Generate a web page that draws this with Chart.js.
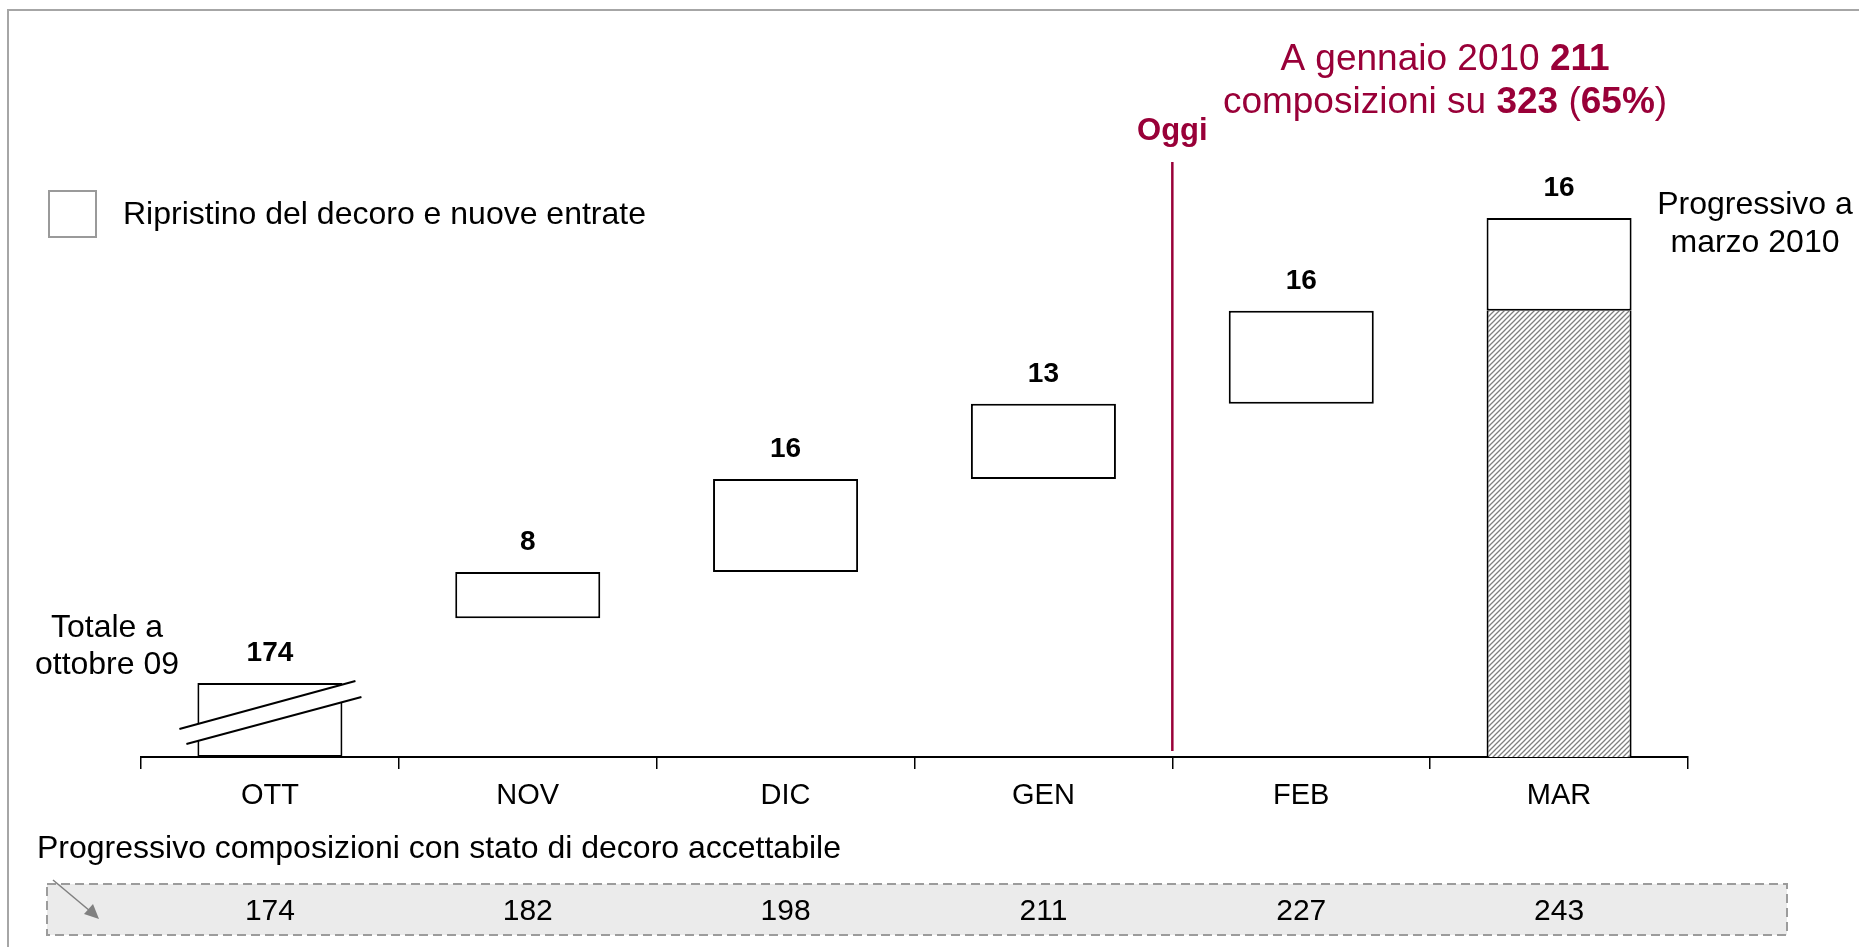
<!DOCTYPE html>
<html lang="it">
<head>
<meta charset="utf-8">
<title>Progressivo composizioni</title>
<script src="https://cdn.jsdelivr.net/npm/chart.js@4.4.1/dist/chart.umd.min.js"></script>
<style>
  html, body { margin: 0; padding: 0; background: #fff; }
  canvas { display: block; }
</style>
</head>
<body>
<canvas id="decoroChart" width="1859" height="947"></canvas>
<script>
// dati
const categories = ['OTT', 'NOV', 'DIC', 'GEN', 'FEB', 'MAR'];
const increments = [174, 8, 16, 13, 16, 16];
const progressive = [174, 182, 198, 211, 227, 243];
const totalCompositions = 323;
const legendLabel = 'Ripristino del decoro e nuove entrate';

const CRIMSON = '#990038';
const FONT = "'Liberation Sans', Arial, sans-serif";

// barre fluttuanti: da progressivo precedente a progressivo corrente
const boxData = categories.map((c, i) => i === 0 ? null : [progressive[i - 1], progressive[i]]);
// barra iniziale (spezzata) e barra finale tratteggiata
const startData = categories.map((c, i) => i === 0 ? progressive[0] : null);
const endData = categories.map((c, i) => i === categories.length - 1 ? progressive[i - 1] : null);

// pattern a righe diagonali per la barra di marzo
function makeHatch() {
  const p = document.createElement('canvas');
  p.width = 5; p.height = 5;
  const c = p.getContext('2d');
  c.fillStyle = '#fff';
  c.fillRect(0, 0, 5, 5);
  c.strokeStyle = '#808080';
  c.lineWidth = 1.3;
  c.beginPath();
  c.moveTo(-1, 6); c.lineTo(6, -1);
  c.moveTo(-1, 1); c.lineTo(1, -1);
  c.moveTo(4, 6); c.lineTo(6, 4);
  c.stroke();
  return document.getElementById('decoroChart').getContext('2d').createPattern(p, 'repeat');
}

function txt(ctx, s, x, y, size, opts = {}) {
  ctx.font = (opts.bold ? 'bold ' : '') + size + 'px ' + FONT;
  ctx.fillStyle = opts.color || '#000';
  ctx.textAlign = opts.align || 'left';
  ctx.textBaseline = 'alphabetic';
  ctx.fillText(s, x, y);
}

// testo con parti in grassetto, centrato
function richLine(ctx, parts, cx, y, size, color) {
  let w = 0;
  parts.forEach(p => {
    ctx.font = (p.b ? 'bold ' : '') + size + 'px ' + FONT;
    w += ctx.measureText(p.t).width;
  });
  let x = cx - w / 2;
  parts.forEach(p => {
    ctx.font = (p.b ? 'bold ' : '') + size + 'px ' + FONT;
    ctx.fillStyle = color;
    ctx.textAlign = 'left';
    ctx.fillText(p.t, x, y);
    x += ctx.measureText(p.t).width;
  });
}

const decorPlugin = {
  id: 'decor',
  beforeDraw(chart) {
    const ctx = chart.ctx;
    ctx.save();
    // cornice
    ctx.strokeStyle = '#a6a6a6';
    ctx.lineWidth = 2;
    ctx.beginPath();
    ctx.moveTo(8, 947); ctx.lineTo(8, 10); ctx.lineTo(1859, 10);
    ctx.stroke();

    // legenda
    ctx.fillStyle = '#fff';
    ctx.fillRect(49, 191, 47, 46);
    ctx.strokeStyle = '#9a9a9a';
    ctx.lineWidth = 2;
    ctx.strokeRect(49, 191, 47, 46);
    txt(ctx, legendLabel, 123, 224, 32);

    // titolo
    const pct = Math.round(progressive[3] / totalCompositions * 100);
    richLine(ctx, [{ t: 'A gennaio 2010 ' }, { t: String(progressive[3]), b: true }], 1445, 70, 37, CRIMSON);
    richLine(ctx, [{ t: 'composizioni su ' }, { t: String(totalCompositions), b: true }, { t: ' (' },
      { t: pct + '%', b: true }, { t: ')' }], 1445, 113, 37, CRIMSON);

    // linea "Oggi"
    const xs = chart.scales.x;
    const xOggi = (xs.getPixelForValue(3) + xs.getPixelForValue(4)) / 2;
    txt(ctx, 'Oggi', xOggi, 140, 31, { bold: true, color: CRIMSON, align: 'center' });
    ctx.strokeStyle = CRIMSON;
    ctx.lineWidth = 2.5;
    ctx.beginPath();
    ctx.moveTo(xOggi, 162); ctx.lineTo(xOggi, 751);
    ctx.stroke();

    // note laterali
    txt(ctx, 'Totale a', 107, 637, 32, { align: 'center' });
    txt(ctx, 'ottobre 09', 107, 674, 32, { align: 'center' });
    txt(ctx, 'Progressivo a', 1755, 214, 32, { align: 'center' });
    txt(ctx, 'marzo 2010', 1755, 252, 32, { align: 'center' });

    // riquadro progressivo
    txt(ctx, 'Progressivo composizioni con stato di decoro accettabile', 37, 858, 32);
    ctx.fillStyle = '#ebebeb';
    ctx.fillRect(47, 884, 1740, 51);
    ctx.strokeStyle = '#9c9c9c';
    ctx.lineWidth = 2;
    ctx.setLineDash([9, 5]);
    ctx.strokeRect(47, 884, 1740, 51);
    ctx.setLineDash([]);
    progressive.forEach((v, i) => {
      txt(ctx, String(v), xs.getPixelForValue(i), 920, 30, { align: 'center' });
    });

    // freccia
    ctx.strokeStyle = '#808080';
    ctx.fillStyle = '#808080';
    ctx.lineWidth = 1.5;
    ctx.beginPath();
    ctx.moveTo(53, 880); ctx.lineTo(90, 911);
    ctx.stroke();
    ctx.beginPath();
    ctx.moveTo(99, 919); ctx.lineTo(84, 914); ctx.lineTo(93, 904);
    ctx.closePath();
    ctx.fill();
    ctx.restore();
  },
  afterDatasetsDraw(chart) {
    const ctx = chart.ctx;
    ctx.save();
    // segno di interruzione sulla barra di ottobre
    const b = chart.getDatasetMeta(1).data[0];
    const L = b.x - b.width / 2, R = b.x + b.width / 2, T = b.y, B = b.base;
    ctx.fillStyle = '#fff';
    ctx.beginPath();
    ctx.moveTo(L - 18, B - 28); ctx.lineTo(R + 13, T - 2);
    ctx.lineTo(R + 19, T + 14); ctx.lineTo(L - 11, B - 13);
    ctx.closePath();
    ctx.fill();
    ctx.strokeStyle = '#000';
    ctx.lineWidth = 2;
    ctx.beginPath();
    ctx.moveTo(L - 18, B - 28); ctx.lineTo(R + 13, T - 2);
    ctx.moveTo(L - 11, B - 13); ctx.lineTo(R + 19, T + 14);
    ctx.stroke();

    // etichette incrementi
    const boxes = chart.getDatasetMeta(0).data;
    categories.forEach((c, i) => {
      const el = i === 0 ? b : boxes[i];
      txt(ctx, String(increments[i]), el.x, el.y - 22, 28, { bold: true, align: 'center' });
    });
    ctx.restore();
  }
};

const ctx = document.getElementById('decoroChart').getContext('2d');
new Chart(ctx, {
  type: 'bar',
  data: {
    labels: categories,
    datasets: [
      {
        label: legendLabel,
        data: boxData,
        backgroundColor: '#fff',
        borderColor: '#000',
        borderWidth: 2,
        borderSkipped: false
      },
      {
        label: 'Totale ottobre',
        data: startData,
        yAxisID: 'yBreak',
        backgroundColor: '#fff',
        borderColor: '#000',
        borderWidth: 2,
        borderSkipped: false
      },
      {
        label: 'Progressivo marzo',
        data: endData,
        backgroundColor: makeHatch(),
        borderColor: '#000',
        borderWidth: 2,
        borderSkipped: 'top'
      }
    ]
  },
  options: {
    responsive: false,
    animation: false,
    devicePixelRatio: 1,
    layout: { padding: { left: 141, right: 171, top: 160, bottom: 0 } },
    datasets: { bar: { grouped: false, barPercentage: 0.5625, categoryPercentage: 1 } },
    plugins: {
      legend: { display: false },
      tooltip: { enabled: false }
    },
    scales: {
      x: {
        afterFit: s => { s.height = 190; },
        border: { display: true, color: '#000', width: 2 },
        grid: { offset: true, drawOnChartArea: false, drawTicks: true, tickLength: 12, color: '#000', lineWidth: 1.5 },
        ticks: { color: '#000', font: { family: FONT, size: 29 }, padding: 10 }
      },
      y: { display: false, min: 150.1, max: 253 },
      // scala compressa per la barra spezzata di ottobre
      yBreak: { display: false, min: 0, max: 1404 }
    }
  },
  plugins: [decorPlugin]
});
</script>
</body>
</html>
